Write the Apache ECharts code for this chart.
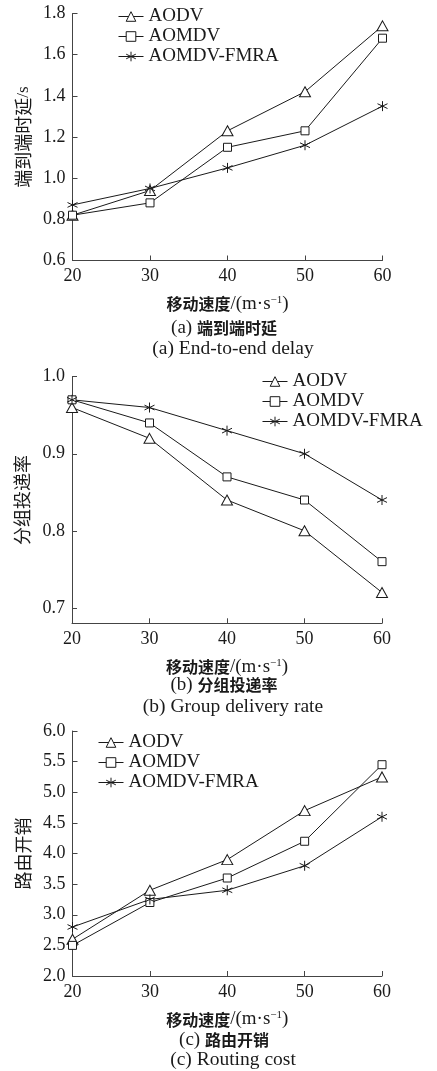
<!DOCTYPE html>
<html>
<head>
<meta charset="utf-8">
<script src="https://cdn.jsdelivr.net/npm/echarts@6/dist/echarts.min.js"></script>
<style>
html,body{margin:0;padding:0;background:#fff;}
#main{width:437px;height:1071px;}
</style>
</head>
<body>
<div id="main"></div>
<script>
// ---- data ----
const speeds = [20, 30, 40, 50, 60];
const seriesNames = ['AODV', 'AOMDV', 'AOMDV-FMRA'];
const delayAODV = [0.82, 0.94, 1.23, 1.42, 1.74];
const delayAOMDV = [0.82, 0.88, 1.15, 1.23, 1.68];
const delayFMRA = [0.87, 0.95, 1.05, 1.16, 1.35];
const pdrAODV = [0.96, 0.92, 0.84, 0.80, 0.72];
const pdrAOMDV = [0.97, 0.94, 0.87, 0.84, 0.76];
const pdrFMRA = [0.97, 0.96, 0.93, 0.90, 0.84];
const costAODV = [2.6, 3.4, 3.9, 4.7, 5.25];
const costAOMDV = [2.5, 3.2, 3.6, 4.2, 5.45];
const costFMRA = [2.8, 3.25, 3.4, 3.8, 4.6];
const pdrTicks = [0.7, 0.8, 0.9, 1.0];
const yNames = ['端到端时延', '分组投递率', '路由开销'];
const yUnits = ['/s', '', ''];
const captionsCN = ['(a) |端到端时延', '(b) |分组投递率', '(c) |路由开销'];
const captionsEN = ['(a) End-to-end delay', '(b) Group delivery rate', '(c) Routing cost'];

const SERIF = 'Liberation Serif, Times New Roman, serif';
const CJK = 'Noto Sans CJK SC, sans-serif';
const INK = '#1a1a1a';
const AX = '#444';

const ASTER = 'path://M5,0L5,10M0.8,2.6L9.2,7.4M0.8,7.4L9.2,2.6';
const symbols = ['triangle', 'rect', ASTER];
const symSizes = [[11, 10], 8, 10];

const grids = [
  {left: 72.5, right: 54.5, top: 13.5, height: 247},
  {left: 72, right: 55, top: 376.7, height: 246.6},
  {left: 72.5, right: 55, top: 731, height: 245}
];

const chart = echarts.init(document.getElementById('main'), null, {renderer: 'canvas'});

function xAxisCfg(i) {
  return {
    type: 'value', gridIndex: i, min: 20, max: 60, interval: 10,
    axisLine: {show: true, lineStyle: {color: AX, width: 1}},
    axisTick: {show: true, inside: true, length: 5, lineStyle: {color: AX}},
    splitLine: {show: false},
    axisLabel: {color: INK, fontFamily: SERIF, fontSize: 18, margin: 7},
    name: '{c|移动速度}{s|/(m·s}{sup|−1}{s|)}',
    nameLocation: 'middle', nameGap: 34,
    nameTextStyle: {
      rich: {
        c: {fontFamily: CJK, fontWeight: 'bold', fontSize: 16, color: INK},
        s: {fontFamily: SERIF, fontSize: 19, color: INK},
        sup: {fontFamily: SERIF, fontSize: 11, color: INK, verticalAlign: 'top'}
      }
    }
  };
}

function yAxisCfg(i, min, max, interval) {
  const cfg = {
    type: 'value', gridIndex: i, min: min, max: max,
    axisLine: {show: true, lineStyle: {color: AX, width: 1}},
    axisTick: {show: true, inside: true, length: 5, lineStyle: {color: AX}},
    splitLine: {show: false},
    axisLabel: {color: INK, fontFamily: SERIF, fontSize: 18, margin: 7,
      formatter: v => Number(v).toFixed(1)},
    name: '{c|' + yNames[i] + '}' + (yUnits[i] ? '{s|' + yUnits[i] + '}' : ''),
    nameLocation: 'middle', nameGap: 40, nameRotate: 90,
    nameTextStyle: {
      rich: {
        c: {fontFamily: CJK, fontSize: 18, color: INK},
        s: {fontFamily: SERIF, fontSize: 17, color: INK}
      }
    }
  };
  if (interval) cfg.interval = interval;
  return cfg;
}

const yAxes = [
  yAxisCfg(0, 0.6, 1.8, 0.2),
  yAxisCfg(1, 0.68, 1.0, null),
  yAxisCfg(2, 2.0, 6.0, 0.5)
];
yAxes[1].axisLabel.customValues = pdrTicks;
yAxes[1].axisTick.customValues = pdrTicks;

const dataSets = [
  [delayAODV, delayAOMDV, delayFMRA],
  [pdrAODV, pdrAOMDV, pdrFMRA],
  [costAODV, costAOMDV, costFMRA]
];

const series = [];
dataSets.forEach((set, g) => {
  set.forEach((vals, k) => {
    series.push({
      type: 'line', name: seriesNames[k], xAxisIndex: g, yAxisIndex: g,
      data: speeds.map((s, j) => [s, vals[j]]),
      symbol: symbols[k], symbolSize: symSizes[k],
      showAllSymbol: true, animation: false,
      lineStyle: {color: INK, width: 1},
      itemStyle: {color: '#fff', borderColor: INK, borderWidth: 1},
      emphasis: {disabled: true}
    });
  });
});

function legendCfg(left, top) {
  return {
    show: true, orient: 'vertical', left: left, top: top,
    itemWidth: 25, itemHeight: 12, itemGap: 1,
    data: seriesNames.map(n => ({name: n})),
    textStyle: {fontFamily: SERIF, fontSize: 19, color: INK},
    itemStyle: {color: '#fff', borderColor: INK, borderWidth: 1},
    lineStyle: {color: INK, width: 1},
    selectedMode: false,
    padding: 0
  };
}

const legends = [
  legendCfg(118, 7),
  legendCfg(262, 372),
  legendCfg(98, 733)
];

const graphics = [];
const capCN_y = [328, 685, 1040];
const capEN_y = [349, 706.5, 1060];
captionsCN.forEach((c, i) => {
  const parts = c.split('|');
  graphics.push({
    type: 'text', x: 224, y: capCN_y[i],
    style: {
      text: '{s|' + parts[0] + '}{c|' + parts[1] + '}',
      textAlign: 'center', textVerticalAlign: 'middle',
      rich: {
        s: {fontFamily: SERIF, fontSize: 19, fill: INK, color: INK},
        c: {fontFamily: CJK, fontWeight: 'bold', fontSize: 16, fill: INK, color: INK}
      }
    }
  });
  graphics.push({
    type: 'text', x: 233, y: capEN_y[i],
    style: {
      text: captionsEN[i], textAlign: 'center', textVerticalAlign: 'middle',
      font: '19.5px ' + SERIF, fill: INK
    }
  });
});

chart.setOption({
  backgroundColor: '#fff',
  animation: false,
  grid: grids,
  xAxis: [xAxisCfg(0), xAxisCfg(1), xAxisCfg(2)],
  yAxis: yAxes,
  legend: legends,
  series: series,
  graphic: graphics
});
</script>
</body>
</html>
